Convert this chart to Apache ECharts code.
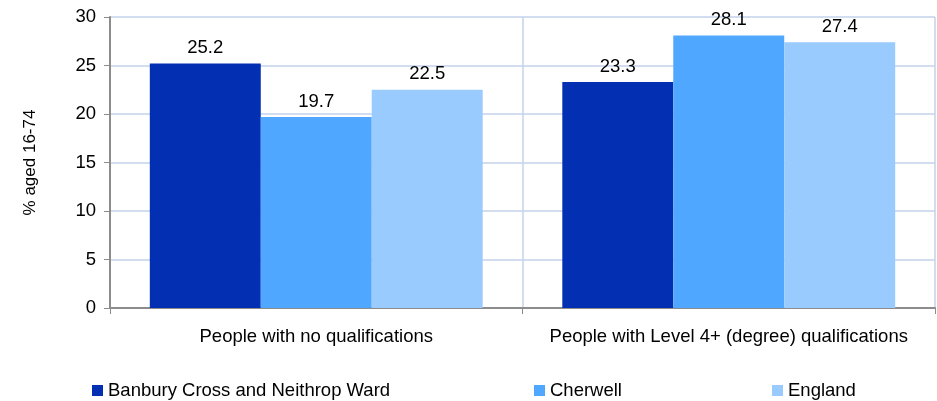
<!DOCTYPE html>
<html><head><meta charset="utf-8">
<script src="https://cdn.jsdelivr.net/npm/echarts@6/dist/echarts.min.js"></script>
<style>html,body{margin:0;padding:0;background:#fff}#c{width:937px;height:401px}</style>
</head><body><div id="c"></div>
<script>
const categories = ['People with no qualifications', 'People with Level 4+ (degree) qualifications'];
const seriesNames = ['Banbury Cross and Neithrop Ward', 'Cherwell', 'England'];
const banbury = [25.2, 23.3];
const cherwell = [19.7, 28.1];
const england = [22.5, 27.4];
const yTicks = [0, 5, 10, 15, 20, 25, 30];
const colors = ['#0330b3', '#4fa7ff', '#9acbff'];

const font = 'Liberation Sans, Arial, sans-serif';
const fs = 18.5;
const chart = echarts.init(document.getElementById('c'), null, {renderer: 'canvas'});
const mk = (name, data, i) => ({
  name, type: 'bar', data, barGap: '0%', barCategoryGap: '19.3%',
  itemStyle: {color: colors[i]},
  label: {show: true, position: 'top', distance: 6, color: '#000', fontSize: fs, fontFamily: font,
    formatter: p => p.value.toFixed(1)}
});
const legendLefts = [92, 534, 772];
chart.setOption({
  animation: false,
  textStyle: {fontFamily: font},
  grid: {left: 110, right: 2, top: 17, bottom: 93, containLabel: false},
  legend: seriesNames.map((n, i) => ({
    data: [n], left: legendLefts[i], top: 381, padding: 0, itemWidth: 11, itemHeight: 11, itemGap: 0,
    icon: 'rect', textStyle: {fontSize: fs, color: '#000', fontFamily: font}
  })),
  xAxis: {
    type: 'category', data: categories,
    axisLine: {lineStyle: {color: '#8c8c8c', width: 2}},
    axisTick: {show: true, interval: 0, length: 6, lineStyle: {color: '#8c8c8c'}},
    splitLine: {show: true, interval: 0, lineStyle: {color: '#c3d3ea', width: 1.5}},
    axisLabel: {color: '#000', fontSize: fs, margin: 19, interval: 0, fontFamily: font}
  },
  yAxis: {
    type: 'value', min: yTicks[0], max: yTicks[yTicks.length - 1], interval: 5,
    name: '% aged 16-74', nameLocation: 'middle', nameGap: 71, nameRotate: 90,
    nameTextStyle: {color: '#000', fontSize: 17, fontFamily: font},
    axisLine: {show: true, lineStyle: {color: '#8c8c8c', width: 2}},
    axisTick: {show: true, length: 6, lineStyle: {color: '#8c8c8c'}},
    splitLine: {show: true, lineStyle: {color: '#c3d3ea', width: 1.5}},
    axisLabel: {color: '#000', fontSize: fs, margin: 14, fontFamily: font}
  },
  series: [mk(seriesNames[0], banbury, 0), mk(seriesNames[1], cherwell, 1), mk(seriesNames[2], england, 2)]
});
</script></body></html>
